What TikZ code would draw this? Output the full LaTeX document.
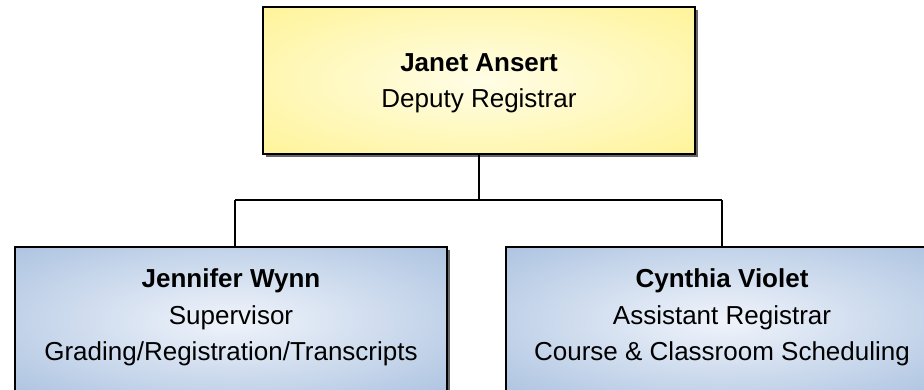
\documentclass[tikz,border=0pt]{standalone}
\usepackage{fontspec}
\setmainfont{Liberation Sans}
\usetikzlibrary{shadows}
\definecolor{yin}{RGB}{255,253,230}
\definecolor{yout}{RGB}{255,240,122}
\definecolor{bin}{RGB}{240,244,251}
\definecolor{bout}{RGB}{146,176,214}
\pgfdeclareradialshading{yshade}{\pgfpoint{0bp}{0bp}}{color(0bp)=(yin); color(50bp)=(yout)}
\pgfdeclareradialshading{bshade}{\pgfpoint{0bp}{0bp}}{color(0bp)=(bin); color(50bp)=(bout)}
\tikzset{
  orgbox/.style={draw=black, line width=2pt, inner sep=0pt,
    drop shadow={shadow xshift=3pt, shadow yshift=-3pt, fill=black!60, opacity=1}},
  yellowbox/.style={orgbox, shading=yshade, minimum width=432pt, minimum height=147pt},
  bluebox/.style={orgbox, shading=bshade, minimum width=432pt, minimum height=147pt},
  txt/.style={anchor=base, inner sep=0pt, font=\fontsize{26}{30}\selectfont},
  btxt/.style={txt, font=\fontsize{26}{30}\selectfont\bfseries},
  link/.style={draw=black, line width=2pt}
}
\begin{document}
\begin{tikzpicture}[x=1pt, y=-1pt]
\useasboundingbox (0,0) rectangle (924,389);
\clip (0,0) rectangle (924,389);
\fill[white] (0,0) rectangle (924,389);
% junction points
\coordinate (jn) at (479,200);
\coordinate (lj) at (235,200);
\coordinate (rj) at (722,200);
% boxes
\node[yellowbox] (top) at (479,80.5) {};
\node[bluebox] (left) at (231,320.5) {};
\node[bluebox] (right) at (722,320.5) {};
% connectors
\draw[link] (top.south) -- (jn);
\draw[link] (lj) -- (rj);
\draw[link] (lj) -- (lj |- left.north);
\draw[link] (rj) -- (right.north);
% texts
\node[btxt] (t1) at (479,71) {Janet Ansert};
\node[txt] (t2) at (479,107) {Deputy Registrar};
\node[btxt] (l1) at (231,287) {Jennifer Wynn};
\node[txt] (l2) at (231,324) {Supervisor};
\node[txt] (l3) at (231,360) {Grading/Registration/Transcripts};
\node[btxt] (r1) at (722,287) {Cynthia Violet};
\node[txt] (r2) at (722,324) {Assistant Registrar};
\node[txt] (r3) at (722,360) {Course \& Classroom Scheduling};
\end{tikzpicture}
\end{document}
